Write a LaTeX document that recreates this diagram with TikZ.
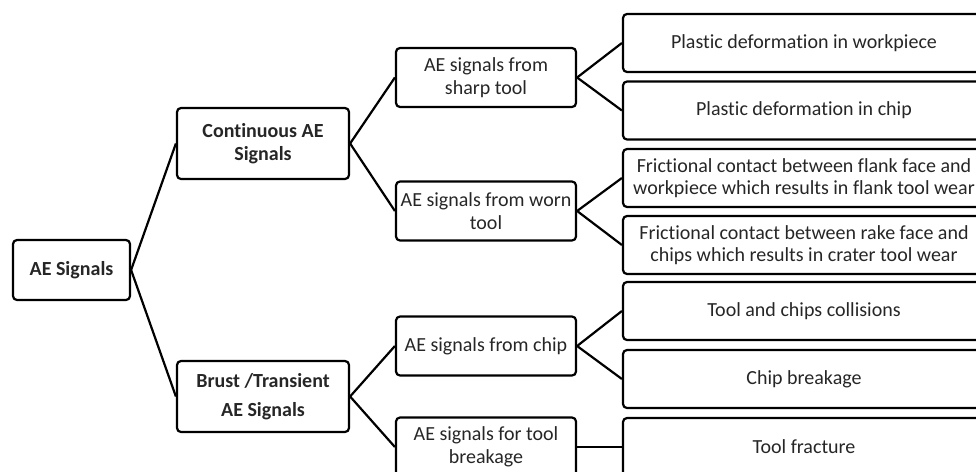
\documentclass[tikz,border=0pt]{standalone}
\usepackage{fontspec}
\setmainfont{Carlito}[Ligatures={NoCommon}]
\usepackage{tikz}
\usetikzlibrary{positioning}

\tikzset{
  sigbox/.style={draw, line width=2.2pt, rounded corners=4pt, align=center,
    text=black!85, font=\fontsize{20}{22.5}\selectfont, inner sep=0pt},
  lvlone/.style={sigbox, minimum width=117pt, minimum height=60pt},
  lvltwo/.style={sigbox, minimum width=172pt, minimum height=71pt},
  lvlthree/.style={sigbox, minimum width=180pt, minimum height=59pt},
  lvlfour/.style={sigbox, minimum width=362pt, minimum height=58pt},
  link/.style={line width=2.2pt}
}

\begin{document}
\begin{tikzpicture}[x=1pt,y=-1pt]

\clip (0,0) rectangle (976,471);

\node[lvlone] (root) at (71.5,270) {\textbf{AE Signals}};

\node[lvltwo] (cont) at (263,143.5) {\textbf{Continuous AE}\\\textbf{Signals}};
\node[lvltwo] (brust) at (263,396.5) {\textbf{Brust /Transient}\\[6pt]\textbf{AE Signals}};

\node[lvlthree] (sharp) at (486,77.5) {AE signals from\\sharp tool};
\node[lvlthree] (worn) at (486,211) {AE signals from worn\\tool};
\node[lvlthree] (chip) at (486,346) {AE signals from chip};
\node[lvlthree] (brk) at (486,447) {AE signals for tool\\breakage};

\node[lvlfour] (wpiece) at (804,43) {Plastic deformation in workpiece};
\node[lvlfour] (pchip) at (804,110.5) {Plastic deformation in chip};
\node[lvlfour] (flank) at (804,178) {Frictional contact between flank face and\\workpiece which results in flank tool wear};
\node[lvlfour] (crater) at (804,245) {Frictional contact between rake face and\\chips which results in crater tool wear};
\node[lvlfour] (coll) at (804,311) {Tool and chips collisions};
\node[lvlfour] (cbreak) at (804,379) {Chip breakage};
\node[lvlfour] (fract) at (804,447) {Tool fracture};

\foreach \a/\b in {root/cont, root/brust, cont/sharp, cont/worn, brust/chip, brust/brk,
  sharp/wpiece, sharp/pchip, worn/flank, worn/crater, chip/coll, chip/cbreak, brk/fract} {
	\draw[link] (\a.east) -- (\b.west);
}

\end{tikzpicture}
\end{document}
